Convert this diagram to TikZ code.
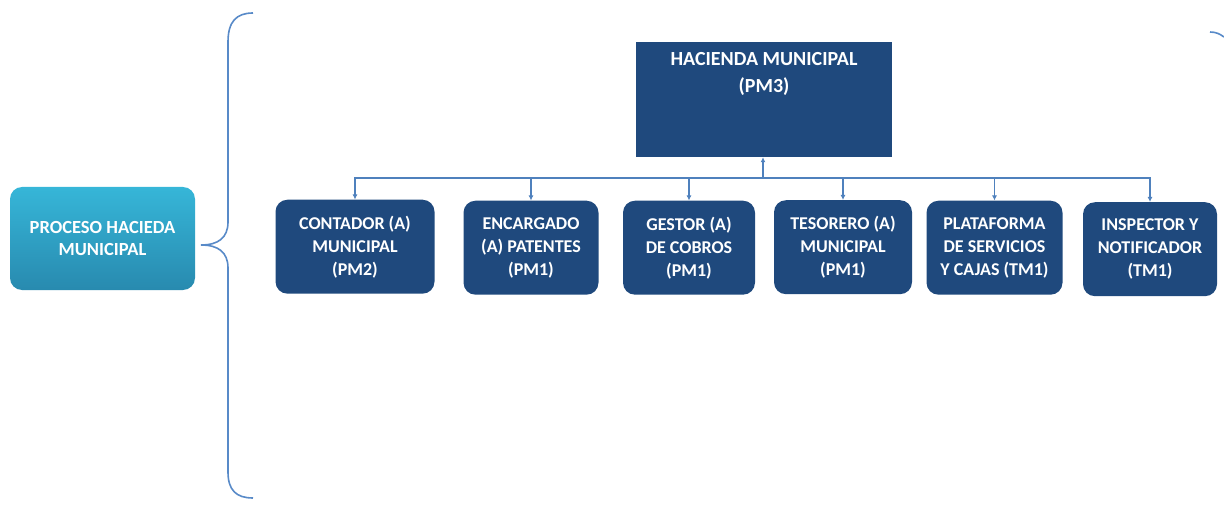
\documentclass[tikz,border=0pt]{standalone}
\usepackage{fontspec}
\setmainfont{Carlito}
\usetikzlibrary{arrows.meta}
\definecolor{navy}{RGB}{31,73,125}
\definecolor{linkblue}{RGB}{79,129,189}
\definecolor{bracecol}{RGB}{88,138,200}
\definecolor{tealtop}{RGB}{54,182,216}
\definecolor{tealbot}{RGB}{40,138,175}
\tikzset{
  unit/.style={draw=none, fill=navy, rounded corners=12pt, text=white,
    font=\bfseries\fontsize{18}{23}\selectfont, align=center,
    minimum height=94pt, inner sep=0pt, anchor=north},
  head/.style={fill=navy, minimum width=256pt, minimum height=115pt, inner sep=0pt},
  link/.style={draw=linkblue, line width=1.2pt, -{Latex[length=5pt,width=5pt]}},
}
\begin{document}
\begin{tikzpicture}[x=1pt,y=-1pt]
\useasboundingbox (0,0) rectangle (1224,505);

% process label
\node[rounded corners=12pt, top color=tealtop, bottom color=tealbot,
  minimum width=185pt, minimum height=103pt, inner sep=0pt,
  text=white, font=\bfseries\fontsize{18.5}{22}\selectfont, align=center]
  (proc) at (102.5,238.5) {PROCESO HACIEDA\\MUNICIPAL};

% grouping brace
\coordinate (tip) at (201,245);
\draw[bracecol, line width=1.6pt]
  (253,13) .. controls (236,13) and (228,22) .. (228,42)
  -- (228,222) .. controls (228,238) and (218,245) .. (tip)
  .. controls (218,245) and (228,252) .. (228,268)
  -- (228,472) .. controls (228,490) and (236,498) .. (253,498);
\draw[bracecol, line width=1.6pt] (1210,32) .. controls (1216,32) and (1220,34) .. (1224,37);

% head of the office
\node[head] (head) at (764,99.5) {};
\node[text=white, font=\bfseries\fontsize{20}{27}\selectfont, align=center,
  anchor=north, inner sep=0pt] (headtxt) at (head.north) [yshift=-10pt] {HACIENDA MUNICIPAL\\(PM3)};

% units
\node[unit, minimum width=159pt] (c1) at (355,199.5) {CONTADOR (A)\\MUNICIPAL\\(PM2)};
\node[unit, minimum width=135pt] (c2) at (531,200.5) {ENCARGADO\\(A) PATENTES\\(PM1)};
\node[unit, minimum width=132pt] (c3) at (689,200.5) {GESTOR (A)\\DE COBROS\\(PM1)};
\node[unit, minimum width=138pt] (c4) at (843,200) {TESORERO (A)\\MUNICIPAL\\(PM1)};
\node[unit, minimum width=136pt] (c5) at (994.5,200.5) {PLATAFORMA\\DE SERVICIOS\\Y CAJAS (TM1)};
\node[unit, minimum width=134pt] (c6) at (1150,202) {INSPECTOR Y\\NOTIFICADOR\\(TM1)};

% connectors
\coordinate (hub) at (763,178);
\draw[link, line width=2pt] (hub) -- (head.south -| hub);
\foreach \c in {c1,c2,c3,c4,c5,c6}
  \draw[link] (hub) -| (\c.north);
\end{tikzpicture}
\end{document}
